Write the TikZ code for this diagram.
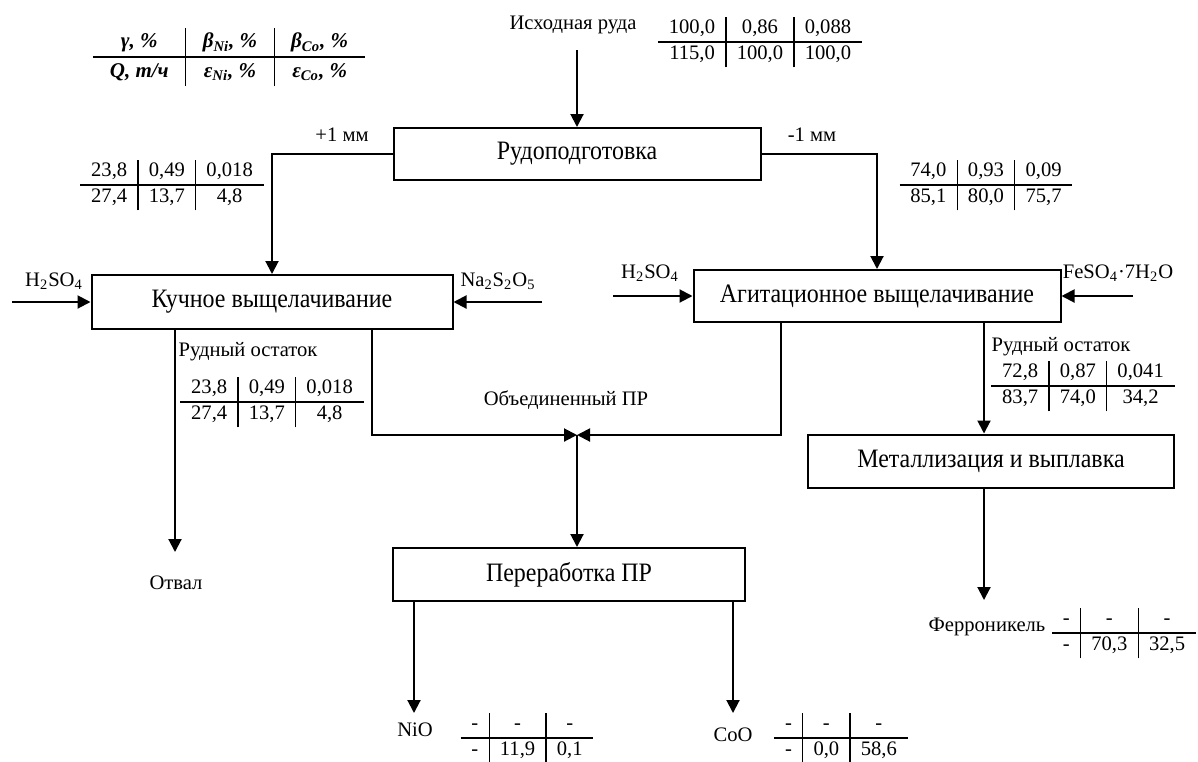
\documentclass[tikz,border=0pt]{standalone}
\usepackage{fontspec}
\setmainfont{Liberation Serif}
\newfontfamily\stagefont[FakeStretch=0.9]{Liberation Serif}
\usetikzlibrary{arrows.meta}

\setlength{\tabcolsep}{5.4pt}
\setlength{\arrayrulewidth}{0.6pt}
\renewcommand{\arraystretch}{1.0}
\newcommand{\datatab}[6]{\begin{tabular}{c|c|c}#1 & #2 & #3\\ \hline #4 & #5 & #6\end{tabular}}

\begin{document}
\begin{tikzpicture}[x=0.5pt, y=-0.5pt,
    stage/.style={draw=black, line width=1pt, inner sep=0pt,
        font=\stagefont\fontsize{13.3}{15}\selectfont},
    note/.style={inner sep=0pt, font=\fontsize{10.3}{12.4}\selectfont},
    flow/.style={line width=1pt},
    feed/.style={flow, -{Triangle[length=6.5pt, width=6.5pt]}}
]
    \useasboundingbox (0,0) rectangle (1198,761);

    % legend
    \node[inner sep=0pt, font=\fontsize{10.5}{13}\selectfont\bfseries\itshape] (legend) at (229,57)
        {\setlength{\tabcolsep}{8.5pt}\renewcommand{\arraystretch}{1.1}%
         \begin{tabular}{c|c|c}
         γ, \% & β\textsubscript{Ni}, \% & β\textsubscript{Co}, \%\\ \hline
         Q, т/ч & ε\textsubscript{Ni}, \% & ε\textsubscript{Co}, \%
         \end{tabular}};

    % stages
    \node[stage, minimum width=183.5pt, minimum height=26pt] (prep) at (577,154) {Рудоподготовка};
    \node[stage, minimum width=180.5pt, minimum height=27pt] (heap) at (272,302) {Кучное выщелачивание};
    \node[stage, minimum width=183.5pt, minimum height=26pt] (agit) at (877,296) {Агитационное выщелачивание};
    \node[stage, minimum width=183pt, minimum height=26.5pt] (metal) at (991,461) {Металлизация и выплавка};
    \node[stage, minimum width=176pt, minimum height=26.5pt] (proc) at (569,574.5) {Переработка ПР};

    % labels
    \node[note] (src) at (573,25) {Исходная руда};
    \node[note] (plus) at (342,135) {+1 мм};
    \node[note] (minus) at (812,135) {-1 мм};
    \node[note] (acidl) at (54,281) {H\textsubscript{2}SO\textsubscript{4}};
    \node[note] (sulf) at (498,281) {Na\textsubscript{2}S\textsubscript{2}O\textsubscript{5}};
    \node[note] (acidr) at (650,273) {H\textsubscript{2}SO\textsubscript{4}};
    \node[note] (iron) at (1118,273) {FeSO\textsubscript{4}·7H\textsubscript{2}O};
    \node[note] (resl) at (248,352) {Рудный остаток};
    \node[note] (resr) at (1061,347) {Рудный остаток};
    \node[note] (joint) at (566,400) {Объединенный ПР};
    \node[note] (dump) at (176,583) {Отвал};
    \node[note] (nio) at (415,730) {NiO};
    \node[note] (coo) at (733,735) {CoO};
    \node[note] (feni) at (987,627) {Ферроникель};

    % balance tables
    \node[note] (tsrc) at (760,42) {\datatab{100,0}{0,86}{0,088}{115,0}{100,0}{100,0}};
    \node[note] (tplus) at (172,185) {\datatab{23,8}{0,49}{0,018}{27,4}{13,7}{4,8}};
    \node[note] (tminus) at (986,185) {\datatab{74,0}{0,93}{0,09}{85,1}{80,0}{75,7}};
    \node[note] (tresl) at (272,402) {\datatab{23,8}{0,49}{0,018}{27,4}{13,7}{4,8}};
    \node[note] (tresr) at (1083,386) {\datatab{72,8}{0,87}{0,041}{83,7}{74,0}{34,2}};
    \node[note] (tnio) at (527,738) {\datatab{-}{-}{-}{-}{11,9}{0,1}};
    \node[note] (tcoo) at (841,738) {\datatab{-}{-}{-}{-}{0,0}{58,6}};
    \node[note] (tfeni) at (1124,633) {\datatab{-}{-}{-}{-}{70,3}{32,5}};

    % free ends
    \coordinate (srcout) at (577,50);
    \coordinate (acidlin) at (12,302);
    \coordinate (sulfin) at (542,302);
    \coordinate (acidrin) at (613,296);
    \coordinate (ironin) at (1133,296);
    \coordinate (dumpx) at (175,0);
    \coordinate (dumpend) at (175,552);
    \coordinate (hx) at (372,0);
    \coordinate (ax) at (781,0);
    \coordinate (mx) at (984,0);
    \coordinate (junc) at (577,435);
    \coordinate (feniend) at (984,600);
    \coordinate (niox) at (414,0);
    \coordinate (nioend) at (414,713);
    \coordinate (cooend) at (733,713);

    % flows
    \draw[feed] (srcout) -- (prep.north);
    \draw[feed] (prep.west) -| (heap.north);
    \draw[feed] (prep.east) -| (agit.north);
    \draw[feed] (acidlin) -- (heap.west);
    \draw[feed] (sulfin) -- (heap.east);
    \draw[feed] (acidrin) -- (agit.west);
    \draw[feed] (ironin) -- (agit.east);
    \draw[feed] (heap.south -| dumpx) -- (dumpend);
    \draw[feed] (heap.south -| hx) |- (junc);
    \draw[feed] (agit.south -| ax) |- (junc);
    \draw[feed] (junc) -- (proc.north -| junc);
    \draw[feed] (agit.south -| mx) -- (metal.north -| mx);
    \draw[feed] (metal.south -| mx) -- (feniend);
    \draw[feed] (proc.south -| niox) -- (nioend);
    \draw[feed] (proc.south -| cooend) -- (cooend);
\end{tikzpicture}
\end{document}
